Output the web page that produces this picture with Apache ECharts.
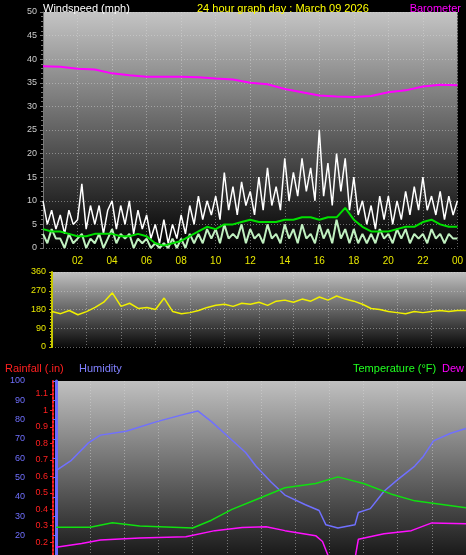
<!DOCTYPE html>
<html><head><meta charset="utf-8">
<script src="https://cdn.jsdelivr.net/npm/echarts@6/dist/echarts.min.js"></script>
<style>html,body{margin:0;background:#000}#c{width:466px;height:555px}</style>
</head><body><div id="c"></div>
<script>
// hours 0..24 step 0.25
const gust = [10,5,8,4, 7,3,8,5, 6,13.6,4,9, 5,9,3,8, 10,4,9,5, 10,3,8,4, 7,2,5,1, 6,1,5,2,
  7,3,9,5, 11,6,10,7, 11,6,16,8, 13,7,14,9, 12,7,15,8, 17,9,13,8, 19,10,16,11, 19,12,17,10,
  25,11,18,9, 20,12,19,8, 15,7,10,5, 9,4,11,6, 11,5,10,6, 12,7,13,8, 15,8,11,7, 12,6,11,7, 10];
const wind = [3,1,4,2, 2,0,3,1, 2,3,0,2, 1,3,0,2, 4,1,3,2, 3,0,2,1, 2,0,1,0, 1,0,2,0,
  2,0,3,1, 3,1,4,2, 4,1,5,2, 3,2,5,1, 4,2,3,1, 5,2,3,1, 5,2,4,1, 5,2,3,1,
  5,2,4,1, 6,2,4,1, 4,1,3,1, 3,1,4,2, 3,1,4,2, 4,1,3,2, 3,1,4,2, 3,1,3,2, 2];
// hours 0..24 step 0.5
const avgWind = [4,3.5,3.5,3,2.5,2.5,3,3,3,2.5,2.5,3,2.5,1,0.5,1,1.5,2.5,3.5,4.5,4,5,5,5.5,6,5.5,5.5,5.5,6,6,
  6.5,6.5,6,6.5,6.5,8.5,6,4.5,3.5,3.5,3.5,4,4.5,4.5,5.5,6,5,4.5,4.5];
const direction = [170,160,175,155,170,190,215,260,195,210,185,190,180,235,170,160,165,175,190,200,205,195,210,205,215,
  200,220,225,215,230,220,240,225,245,230,220,205,185,180,170,165,160,170,165,170,175,170,175,175];
// hourly, drawn on the wind scale
const barometer = [38.5,38.4,38,37.8,37,36.6,36.3,36.3,36.3,36.2,35.9,35.7,35,34.7,33.7,33,32.3,32.1,32,32.2,33,33.4,34.2,34.6,34.5];
// [hour, value] on humidity scale
const humidity = [[0,53.6],[0.9,59],[1.9,68],[2.6,72],[4.1,74],[5.9,79],[7.6,83],[8.3,84.5],[9.1,79],[10.1,71],[11.1,63],
  [11.7,56],[12.6,47.6],[13.4,41],[14.6,36],[15.4,33],[15.8,25.6],[16.5,24],[17.5,25.6],[17.7,32],[18.4,34],[19.2,43],
  [20,49],[21,56],[21.5,61],[22.1,69],[23.1,73],[24,75.4]];
const temperature = [[0,24.3],[2,24.3],[3.3,26.7],[4.9,25],[8,24],[9.1,28],[10.3,33.6],[11.8,39],[13.4,44.8],[15.2,47],
  [16.5,50.4],[18,47],[19.6,41.6],[21,38],[24,34.5]];
const dewPoint = [[0,14],[1.5,16],[2.6,17.7],[4.9,18.8],[7.6,19.4],[9.3,22.6],[10.9,24.2],[12.3,24.6],[13.4,22.6],[15.2,20],
  [15.6,17],[16,8],[17.5,8],[17.7,18.2],[19.2,21],[20.8,22.6],[22,26.6],[24,26.2]];
const humTicks = [20,30,40,50,60,70,80,90,100];
const rainTicks = [0.2,0.3,0.4,0.5,0.6,0.7,0.8,0.9,1,1.1];

const q = (arr, step) => arr.map((v, i) => [i * step, v]);
const grad = (a, b) => new echarts.graphic.LinearGradient(0, 0, 0, 1, [{offset: 0, color: a}, {offset: 1, color: b}]);
const font = 'Liberation Sans';
const dotted = {show: true, lineStyle: {color: 'rgba(220,220,220,0.45)', type: [1, 2]}};
const hourAxis = (grid, labels) => ({
  type: 'value', gridIndex: grid, min: 0, max: 24, interval: 2,
  axisLine: {show: false}, axisTick: {show: false}, splitLine: dotted,
  axisLabel: labels ? {color: '#e8e800', fontSize: 10, fontFamily: font,
    formatter: v => v === 0 ? '' : (v === 24 ? '00' : String(v).padStart(2, '0'))} : {show: false}
});

const chart = echarts.init(document.getElementById('c'));
chart.setOption({
  backgroundColor: '#000',
  animation: false,
  textStyle: {fontFamily: font},
  title: [
    {text: 'Windspeed (mph)', left: 38, top: -2, textStyle: {color: '#fff', fontSize: 11, fontWeight: 'normal'}},
    {text: '24 hour graph day : March 09 2026', left: 192, top: -2, textStyle: {color: '#ffff00', fontSize: 11, fontWeight: 'normal'}},
    {text: 'Barometer', right: 0, top: -2, textStyle: {color: '#ff00ff', fontSize: 11, fontWeight: 'normal'}},
    {text: 'Rainfall (.in)', left: 0, top: 358, textStyle: {color: '#ff2020', fontSize: 11, fontWeight: 'normal'}},
    {text: 'Humidity', left: 74, top: 358, textStyle: {color: '#8080ff', fontSize: 11, fontWeight: 'normal'}},
    {text: 'Temperature (°F)', left: 348, top: 358, textStyle: {color: '#20ff20', fontSize: 11, fontWeight: 'normal'}},
    {text: 'Dew Point', left: 437, top: 358, textStyle: {color: '#ff00ff', fontSize: 11, fontWeight: 'normal'}}
  ],
  grid: [
    {left: 43, right: 4, top: 12, height: 236, show: true, borderWidth: 0, backgroundColor: grad('#c4c4c4', '#000')},
    {left: 52, right: 0, top: 272, height: 75, show: true, borderWidth: 0, backgroundColor: grad('#c0c0c0', '#0a0a0a')},
    {left: 56, right: -3, top: 381, height: 188, show: true, borderWidth: 0, backgroundColor: grad('#c0c0c0', '#1a1a1a')}
  ],
  xAxis: [hourAxis(0, true), hourAxis(1, false), hourAxis(2, false)],
  yAxis: [
    {gridIndex: 0, type: 'value', min: 0, max: 50, interval: 5,
      axisLine: {show: true, lineStyle: {color: '#777'}}, axisTick: {show: true, length: 3, lineStyle: {color: '#777'}},
      minorTick: {show: true, splitNumber: 5, length: 2, lineStyle: {color: '#777'}},
      axisLabel: {color: '#ccc', fontSize: 9, margin: 6}, splitLine: dotted},
    {gridIndex: 1, type: 'value', min: 0, max: 360, interval: 90,
      axisLine: {show: true, lineStyle: {color: '#c8c800', width: 2}}, axisTick: {show: true, length: 3, lineStyle: {color: '#c8c800'}},
      minorTick: {show: true, splitNumber: 6, length: 2, lineStyle: {color: '#c8c800'}},
      axisLabel: {color: '#e8e800', fontSize: 9, margin: 6}, splitLine: dotted},
    {gridIndex: 2, type: 'value', position: 'left', min: 10, max: 100, offset: 26,
      axisLine: {show: true, lineStyle: {color: '#6a6aff', width: 3}}, axisTick: {show: true, length: 3, customValues: humTicks, lineStyle: {color: '#6a6aff'}},
      axisLabel: {color: '#7070ff', fontSize: 9, margin: 5, customValues: humTicks}, splitLine: {show: false}},
    {gridIndex: 2, type: 'value', position: 'left', offset: 3, min: 0.122, max: 1.179,
      axisLine: {show: true, lineStyle: {color: '#ff2020', type: [2, 2], width: 2}}, axisTick: {show: true, length: 3, customValues: rainTicks, lineStyle: {color: '#ff2020'}},
      axisLabel: {color: '#ff2020', fontSize: 9, margin: 5, customValues: rainTicks, formatter: v => String(Math.round(v * 10) / 10)},
      splitLine: {show: false}},
    {gridIndex: 2, type: 'value', min: 10, max: 100, interval: 5, show: false, splitLine: dotted}
  ],
  series: [
    {type: 'line', xAxisIndex: 0, yAxisIndex: 0, data: q(barometer, 1), symbol: 'none', lineStyle: {color: '#ff00ff', width: 2}},
    {type: 'line', xAxisIndex: 0, yAxisIndex: 0, data: q(gust, 0.25), symbol: 'none', lineStyle: {color: '#ffffff', width: 1.5}},
    {type: 'line', xAxisIndex: 0, yAxisIndex: 0, data: q(wind, 0.25), symbol: 'none', lineStyle: {color: '#c0f0c0', width: 2}},
    {type: 'line', xAxisIndex: 0, yAxisIndex: 0, data: q(avgWind, 0.5), symbol: 'none', lineStyle: {color: '#00e000', width: 2}},
    {type: 'line', xAxisIndex: 1, yAxisIndex: 1, data: q(direction, 0.5), symbol: 'none', lineStyle: {color: '#f0f000', width: 1.5}},
    {type: 'line', xAxisIndex: 2, yAxisIndex: 4, data: humidity, symbol: 'none', lineStyle: {color: '#7070ff', width: 1.5}},
    {type: 'line', xAxisIndex: 2, yAxisIndex: 4, data: temperature, symbol: 'none', lineStyle: {color: '#10e010', width: 1.5}},
    {type: 'line', xAxisIndex: 2, yAxisIndex: 4, data: dewPoint, symbol: 'none', lineStyle: {color: '#ff10ff', width: 1.5}}
  ]
});
</script></body></html>
